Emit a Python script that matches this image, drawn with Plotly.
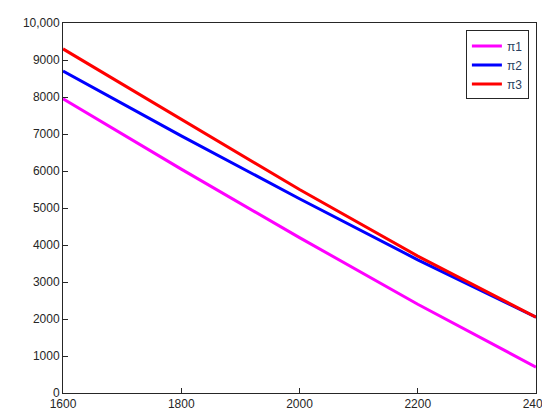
import plotly.graph_objects as go

x = [1600, 1800, 2000, 2200, 2400]
pi1 = [7950, 6050, 4200, 2400, 700]
pi2 = [8700, 6950, 5250, 3600, 2050]
pi3 = [9300, 7400, 5500, 3700, 2050]

fig = go.Figure()
fig.add_trace(go.Scatter(x=x, y=pi1, name='π1', mode='lines', line=dict(color='#ff00ff', width=3)))
fig.add_trace(go.Scatter(x=x, y=pi2, name='π2', mode='lines', line=dict(color='#0000ff', width=3)))
fig.add_trace(go.Scatter(x=x, y=pi3, name='π3', mode='lines', line=dict(color='#ff0000', width=3)))

axis = dict(showline=True, linecolor='#262626', linewidth=1, mirror=True, showgrid=False,
            zeroline=False, ticks='inside', ticklen=5, tickcolor='#262626',
            tickfont=dict(family='Liberation Sans', size=12, color='#262626'))
fig.update_xaxes(range=[1600, 2400], tickvals=[1600, 1800, 2000, 2200, 2400], automargin=False, **axis)
fig.update_yaxes(range=[0, 10000], tickvals=list(range(0, 10001, 1000)), automargin=False,
                 ticktext=[str(v) for v in range(0, 10000, 1000)] + ['10,000'], **axis)
fig.update_layout(width=550, height=413, margin=dict(l=55, r=22, t=15, b=28),
                  plot_bgcolor='white', paper_bgcolor='white',
                  legend=dict(x=0.985, y=0.98, xanchor='right', yanchor='top',
                              bordercolor='#262626', borderwidth=1, bgcolor='white',
                              font=dict(family='Liberation Sans', size=12)))
fig.write_html("out.html")
